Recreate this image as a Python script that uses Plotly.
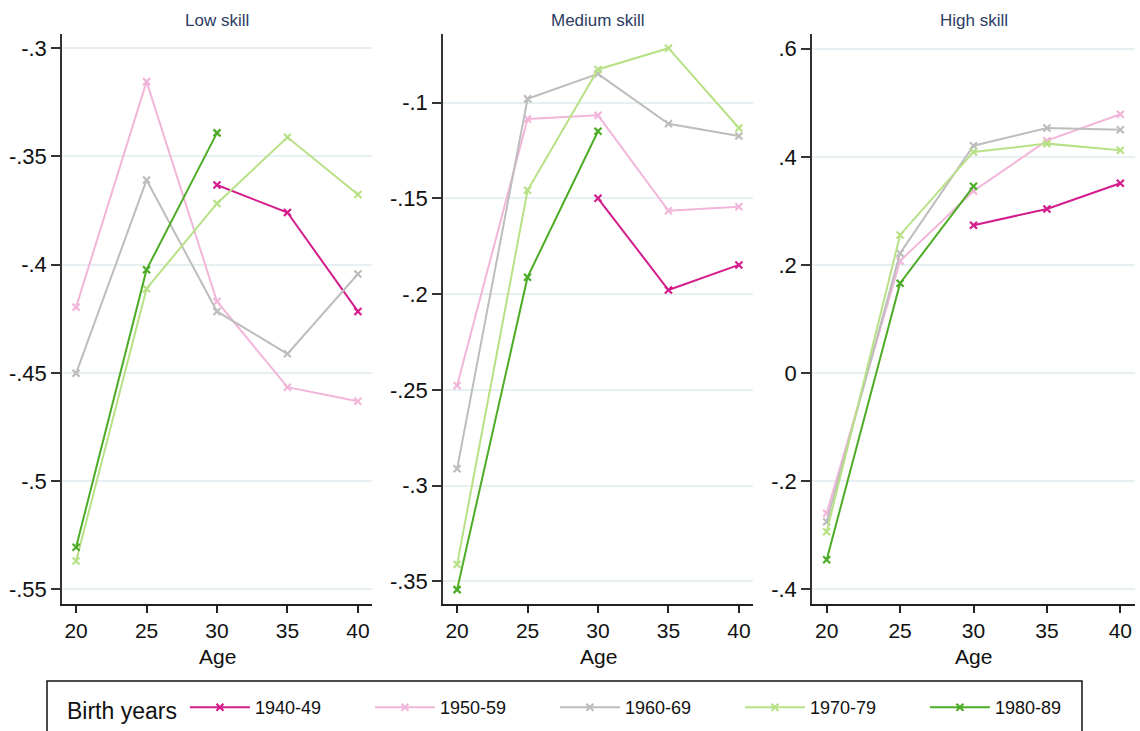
import plotly.graph_objects as go
from plotly.subplots import make_subplots

# Ages on the horizontal axis
ages = [20, 25, 30, 35, 40]

cohorts = ["1940-49", "1950-59", "1960-69", "1970-79", "1980-89"]
colors = ["#d41c8c", "#f1b6da", "#bdbdbd", "#b8e186", "#4dac26"]

panel_titles = ["Low skill", "Medium skill", "High skill"]
x_title = "Age"

# Low skill: one list per birth cohort (None = not observed)
low_1940 = [None, None, -0.3632, -0.3759, -0.4216]
low_1950 = [-0.4196, -0.3154, -0.4170, -0.4566, -0.4631]
low_1960 = [-0.4502, -0.3609, -0.4216, -0.4412, -0.4043]
low_1970 = [-0.5369, -0.4111, -0.3717, -0.3411, -0.3676]
low_1980 = [-0.5306, -0.4023, -0.3391, None, None]

# Medium skill
med_1940 = [None, None, -0.1499, -0.1978, -0.1847]
med_1950 = [-0.2477, -0.1085, -0.1066, -0.1564, -0.1543]
med_1960 = [-0.2912, -0.0979, -0.0849, -0.1110, -0.1174]
med_1970 = [-0.3412, -0.1457, -0.0826, -0.0715, -0.1132]
med_1980 = [-0.3543, -0.1911, -0.1149, None, None]

# High skill
high_1940 = [None, None, 0.2734, 0.3036, 0.3511]
high_1950 = [-0.2592, 0.2074, 0.3369, 0.4299, 0.4787]
high_1960 = [-0.2750, 0.2217, 0.4206, 0.4534, 0.4502]
high_1970 = [-0.2937, 0.2555, 0.4090, 0.4244, 0.4121]
high_1980 = [-0.3455, 0.1662, 0.3455, None, None]

panels = [
    [low_1940, low_1950, low_1960, low_1970, low_1980],
    [med_1940, med_1950, med_1960, med_1970, med_1980],
    [high_1940, high_1950, high_1960, high_1970, high_1980],
]

# Y tick values and their labels for each panel
low_ticks = [-0.55, -0.5, -0.45, -0.4, -0.35, -0.3]
low_labels = ["-.55", "-.5", "-.45", "-.4", "-.35", "-.3"]
med_ticks = [-0.35, -0.3, -0.25, -0.2, -0.15, -0.1]
med_labels = ["-.35", "-.3", "-.25", "-.2", "-.15", "-.1"]
high_ticks = [-0.4, -0.2, 0, 0.2, 0.4, 0.6]
high_labels = ["-.4", "-.2", "0", ".2", ".4", ".6"]
y_ticks = [(low_ticks, low_labels), (med_ticks, med_labels), (high_ticks, high_labels)]
y_ranges = [[-0.5568, -0.2934], [-0.3618, -0.0641], [-0.4272, 0.6272]]

W, H = 1140, 731
FONT = "Liberation Sans, Arial, sans-serif"

fig = make_subplots(rows=1, cols=3)

for p, series in enumerate(panels):
    for k, vals in enumerate(series):
        fig.add_trace(
            go.Scatter(
                x=ages, y=vals, mode="lines+markers",
                name=cohorts[k], legendgroup=cohorts[k], showlegend=(p == 0),
                line=dict(color=colors[k], width=2),
                marker=dict(symbol="x-thin", size=7,
                            line=dict(color=colors[k], width=2.2), color=colors[k]),
                connectgaps=False,
            ),
            row=1, col=p + 1,
        )

# Panel placement in pixels
x_px = [(62, 372), (443, 753), (812, 1135)]
y_top, y_bot = 34, 604
y_dom = [(H - y_bot) / H, (H - y_top) / H]

for p in range(3):
    xa = "xaxis" if p == 0 else f"xaxis{p+1}"
    ya = "yaxis" if p == 0 else f"yaxis{p+1}"
    fig.layout[xa].update(
        domain=[x_px[p][0] / W, x_px[p][1] / W],
        range=[19, 41], tickvals=ages, ticktext=[str(a) for a in ages],
        showgrid=False, zeroline=False,
        showline=True, linecolor="#222222", linewidth=1.5,
        ticks="outside", ticklen=7, tickwidth=1.5, tickcolor="#222222",
        tickfont=dict(family=FONT, size=21, color="#111111"),
        automargin=False,
    )
    tv, tt = y_ticks[p]
    fig.layout[ya].update(
        domain=y_dom, range=y_ranges[p], tickvals=tv, ticktext=tt,
        showgrid=True, gridcolor="#e6eff1", gridwidth=1.5, zeroline=False,
        showline=True, linecolor="#333333", linewidth=1.5,
        ticks="outside", ticklen=9, tickwidth=1.5, tickcolor="#333333",
        tickfont=dict(family=FONT, size=22, color="#111111"),
        automargin=False,
    )
    cx = sum(x_px[p]) / 2 / W
    fig.add_annotation(
        x=cx, y=(H - 20) / H, xref="paper", yref="paper",
        text=panel_titles[p], showarrow=False, xanchor="center", yanchor="middle",
        font=dict(family=FONT, size=17, color="#2c3c62"),
    )
    fig.add_annotation(
        x=cx, y=(H - 656) / H, xref="paper", yref="paper",
        text=x_title, showarrow=False, xanchor="center", yanchor="middle",
        font=dict(family=FONT, size=21, color="#111111"),
    )

# Legend frame
fig.add_shape(type="rect", xref="paper", yref="paper",
              x0=47 / W, x1=1082 / W, y0=-20 / H, y1=(H - 681) / H,
              line=dict(color="#111111", width=1.5), fillcolor="rgba(0,0,0,0)")

fig.update_layout(
    width=W, height=H,
    margin=dict(l=0, r=0, t=0, b=0),
    paper_bgcolor="white", plot_bgcolor="white",
    font=dict(family=FONT),
    showlegend=True,
    legend=dict(
        orientation="h", x=65 / W, y=(H - 709) / H, xanchor="left", yanchor="middle",
        title=dict(text="Birth years", side="left", font=dict(family=FONT, size=23, color="#111111")),
        font=dict(family=FONT, size=18, color="#111111"),
        itemwidth=60, entrywidth=110, entrywidthmode="pixels",
        bgcolor="rgba(0,0,0,0)", borderwidth=0,
    ),
)

fig.write_html("out.html")
